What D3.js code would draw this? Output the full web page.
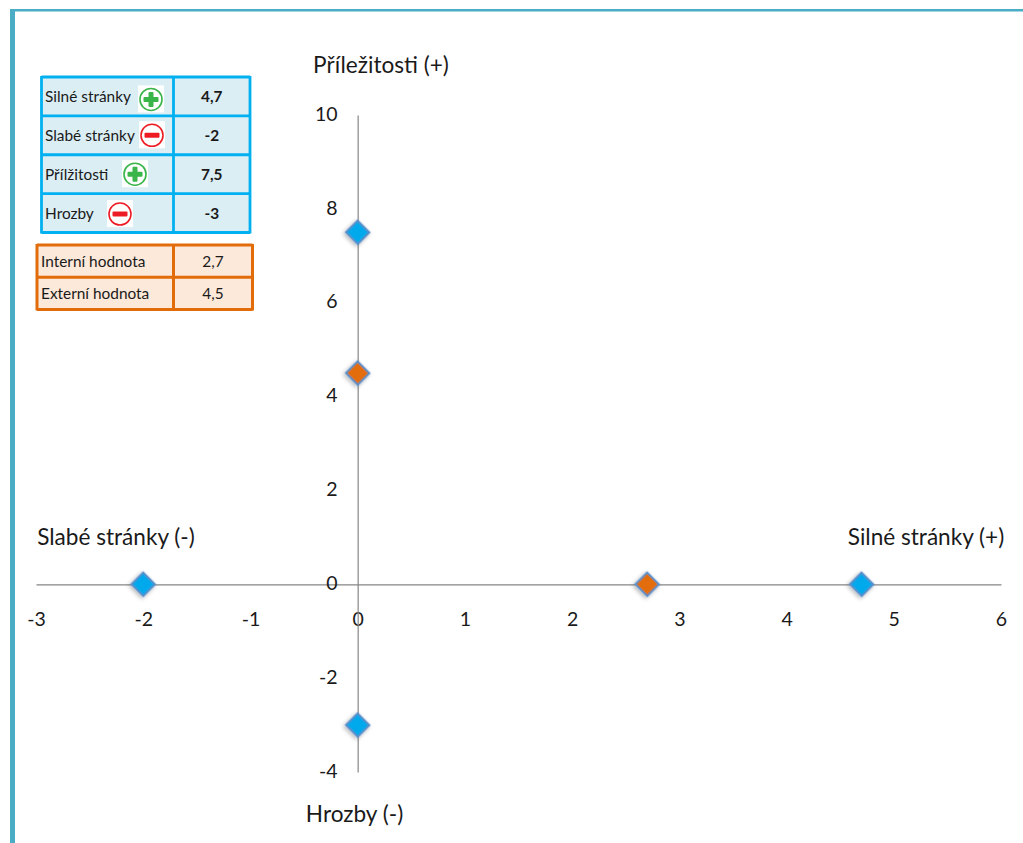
<!DOCTYPE html>
<html>
<head>
<meta charset="utf-8">
<script src="https://cdn.jsdelivr.net/npm/d3@7"></script>
<style>
  html, body { margin: 0; padding: 0; background: #fff; overflow: hidden; }
  text { font-family: Lato, "Open Sans", sans-serif; fill: #1a1a1a; }
</style>
</head>
<body>
<div id="chart-area"></div>
<script>
const WIDTH = 1023
const HEIGHT = 843

// swot scores
const swotLabels = ["Silné stránky", "Slabé stránky", "Přílžitosti", "Hrozby"]
const swotValues = [4.7, -2, 7.5, -3]
const swotSigns = ["+", "-", "+", "-"]
const swotIconX = [151, 152, 135, 120]
const swotIconDy = [3, 0, 0, 1]

// resulting values
const resultLabels = ["Interní hodnota", "Externí hodnota"]
const resultValues = [2.7, 4.5]

// points on the axes
const blueX = [4.7, -2, 0, 0]
const blueY = [0, 0, 7.5, -3]
const orangeX = [2.7, 0]
const orangeY = [0, 4.5]

const xTicks = [-3, -2, -1, 0, 1, 2, 3, 4, 5, 6]
const yTicks = [-4, -2, 0, 2, 4, 6, 8, 10]

const svg = d3.select("#chart-area").append("svg")
  .attr("width", WIDTH)
  .attr("height", HEIGHT)
  .style("display", "block")

const shadow = svg.append("defs").append("filter")
  .attr("id", "shadow")
  .attr("x", "-50%").attr("y", "-50%")
  .attr("width", "200%").attr("height", "200%")
shadow.append("feDropShadow")
  .attr("dx", 0).attr("dy", 2)
  .attr("stdDeviation", 2)
  .attr("flood-color", "#000")
  .attr("flood-opacity", 0.3)

// Frame of the slide
svg.append("rect").attr("x", 10).attr("y", 9).attr("width", 5).attr("height", HEIGHT).attr("fill", "#4bacc6")
svg.append("rect").attr("x", 10).attr("y", 9).attr("width", WIDTH).attr("height", 2.5).attr("fill", "#4bacc6")

const x = d3.scaleLinear().domain([-3, 6]).range([36, 1001])
const y = d3.scaleLinear().domain([-4, 10]).range([772, 115])

const comma = d => String(d).replace(".", ",")

const xAxisCall = d3.axisBottom(x).tickValues(xTicks).tickSize(0).tickPadding(28).tickFormat(d => String(d))
const xAxisGroup = svg.append("g")
  .attr("transform", `translate(0, ${y(0)})`)
  .call(xAxisCall)

const yAxisCall = d3.axisLeft(y).tickValues(yTicks).tickSize(0).tickPadding(20).tickFormat(d => String(d))
const yAxisGroup = svg.append("g")
  .attr("transform", `translate(${x(0)}, 0)`)
  .call(yAxisCall)
yAxisGroup.selectAll("text").attr("y", -1)

svg.selectAll(".domain")
  .attr("stroke", "#868686")
  .attr("stroke-width", 1.2)

svg.selectAll(".tick text")
  .attr("font-size", "19.5px")
  .style("font-family", "Lato, sans-serif")
  .attr("fill", "#1a1a1a")

// Quadrant labels
const axisLabels = [
  { text: "Příležitosti (+)", x: 381, y: 73 },
  { text: "Slabé stránky (-)", x: 116, y: 545 },
  { text: "Silné stránky (+)", x: 926, y: 545 },
  { text: "Hrozby (-)", x: 354.5, y: 822 }
]
svg.selectAll(".axis-label")
  .data(axisLabels)
  .enter().append("text")
  .attr("class", "axis-label")
  .attr("x", d => d.x)
  .attr("y", d => d.y)
  .attr("text-anchor", "middle")
  .attr("font-size", "22.6px")
  .text(d => d.text)

// Points
const diamond = d3.symbol().type(d3.symbolSquare).size(280)

function drawPoints(xs, ys, color) {
  svg.selectAll(null)
    .data(xs.map((d, i) => [d, ys[i]]))
    .enter().append("path")
    .attr("d", diamond)
    .attr("transform", d => `translate(${x(d[0])}, ${y(d[1])}) rotate(45)`)
    .attr("fill", color)
    .attr("stroke", "#5b8fc9")
    .attr("stroke-width", 2)
    .attr("filter", "url(#shadow)")
}
drawPoints(blueX, blueY, "#00a8ec")
drawPoints(orangeX, orangeY, "#e36c0a")

// Tables
function drawTable(labels, values, opts) {
  const rows = d3.scaleBand()
    .domain(d3.range(labels.length))
    .range([opts.top, opts.bottom])
  const g = svg.append("g")

  g.append("rect")
    .attr("x", opts.left).attr("y", opts.top)
    .attr("width", opts.right - opts.left)
    .attr("height", opts.bottom - opts.top)
    .attr("fill", opts.fill)

  rows.domain().forEach(i => {
    const cy = rows(i) + rows.bandwidth() / 2
    g.append("text")
      .attr("x", opts.left + opts.pad)
      .attr("y", cy + 5.5)
      .attr("font-size", "15.4px")
      .text(labels[i])
    g.append("text")
      .attr("x", (opts.mid + opts.right) / 2)
      .attr("y", cy + 5.5)
      .attr("text-anchor", "middle")
      .attr("font-size", "15.4px")
      .attr("font-weight", opts.weight)
      .text(comma(values[i]))
  })

  const hLines = d3.range(labels.length + 1).map(i => opts.top + i * rows.bandwidth())
  g.selectAll(null)
    .data(hLines)
    .enter().append("line")
    .attr("x1", opts.left).attr("x2", opts.right)
    .attr("y1", d => d).attr("y2", d => d)
    .attr("stroke", opts.stroke).attr("stroke-width", opts.border)
  g.selectAll(null)
    .data([opts.left, opts.mid, opts.right])
    .enter().append("line")
    .attr("x1", d => d).attr("x2", d => d)
    .attr("y1", opts.top - 1).attr("y2", opts.bottom + 1)
    .attr("stroke", opts.stroke).attr("stroke-width", opts.border)

  return rows
}

const swotRows = drawTable(swotLabels, swotValues, {
  left: 41.5, mid: 173.5, right: 250, top: 77, bottom: 232.5,
  pad: 3.5, fill: "#dbeef4", stroke: "#00b0f0", weight: 700, border: 2.8
})

drawTable(resultLabels, resultValues, {
  left: 37, mid: 173.5, right: 252.5, top: 245, bottom: 309.5,
  pad: 4, fill: "#fde9d9", stroke: "#e36c0a", weight: 400, border: 3
})

// Plus and minus icons in the first table
swotSigns.forEach((sign, i) => {
  const cx = swotIconX[i]
  const cy = swotRows(i) + swotRows.bandwidth() / 2 + swotIconDy[i]
  const color = sign === "+" ? "#39b54a" : "#ed1c24"
  const icon = svg.append("g").attr("transform", `translate(${cx}, ${cy})`)
  icon.append("rect")
    .attr("x", -13).attr("y", -14).attr("width", 26).attr("height", 27)
    .attr("fill", "#fff")
  icon.append("circle")
    .attr("r", 11)
    .attr("fill", "#fff")
    .attr("stroke", color)
    .attr("stroke-width", 1.6)
  icon.append("rect")
    .attr("x", -7.5).attr("y", -2.5).attr("width", 15).attr("height", 5).attr("rx", 1)
    .attr("fill", color)
  if (sign === "+") {
    icon.append("rect")
      .attr("x", -2.5).attr("y", -7.5).attr("width", 5).attr("height", 15).attr("rx", 1)
      .attr("fill", color)
  }
})
</script>
</body>
</html>
